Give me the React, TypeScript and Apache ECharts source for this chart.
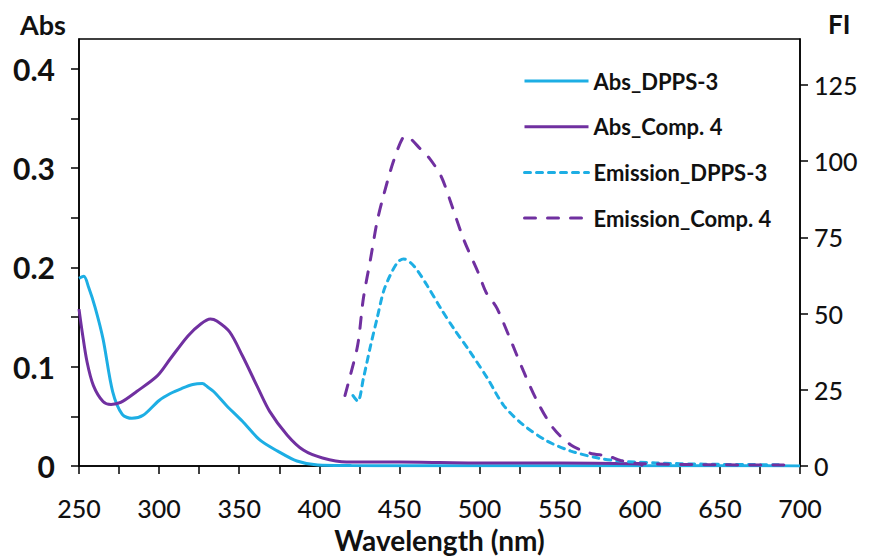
import React, { useEffect, useRef } from "react";
import * as echarts from "echarts";

// Wavelength (nm) / value pairs
const absDppsX = [250, 253, 256, 260, 265, 271, 277, 283, 290, 300, 307, 314, 321, 327, 330, 334, 342, 352, 363, 374, 386, 399, 420, 450, 500, 600, 700];
const absDppsY = [0.189, 0.191, 0.180, 0.160, 0.128, 0.075, 0.052, 0.048, 0.051, 0.066, 0.073, 0.078, 0.082, 0.083, 0.080, 0.075, 0.061, 0.045, 0.026, 0.015, 0.005, 0.001, 0.0005, 0.0003, 0.0002, 0.0002, 0.0001];

const absCompX = [250, 252, 255, 259, 265, 270, 276, 286, 299, 307, 318, 326, 332, 336, 344, 352, 361, 369, 380, 390, 402, 417, 450, 500, 550, 600, 602];
const absCompY = [0.158, 0.135, 0.105, 0.081, 0.065, 0.062, 0.064, 0.075, 0.091, 0.108, 0.131, 0.143, 0.148, 0.146, 0.135, 0.111, 0.081, 0.055, 0.031, 0.016, 0.008, 0.004, 0.004, 0.003, 0.003, 0.002, 0.0];

const emDppsX = [421, 424, 427.5, 432, 436, 440, 444, 449, 452.5, 459, 467.5, 476, 484, 494, 505, 515, 527.5, 542.5, 557, 574, 588, 610, 640, 690];
const emDppsY = [23.1, 21.2, 28.7, 39.5, 48.3, 57.1, 62.3, 66.9, 67.9, 65.6, 59, 51.5, 45, 37.5, 28.7, 19.9, 13.4, 8.1, 4.9, 2.6, 1.6, 1.0, 0.6, 0.4];

const emCompX = [416, 419.5, 424, 427.5, 432, 436, 440, 446, 452, 455, 457, 463, 469, 476, 482, 490, 499, 504, 507, 511, 519, 527.5, 536, 546, 557, 569, 580, 588, 600, 650, 690];
const emCompY = [23.1, 30, 39.8, 55, 68, 80, 88.5, 99.5, 107.5, 108, 107.3, 104, 100.7, 95, 86.5, 74.4, 63.6, 57, 54.8, 51.6, 41.8, 31, 21.2, 12.4, 6.9, 4.2, 3.3, 1.8, 0.8, 0.4, 0.3];

const seriesNames = ["Abs_DPPS-3", "Abs_Comp. 4", "Emission_DPPS-3", "Emission_Comp. 4"];

const xTicks = [250, 275, 300, 325, 350, 375, 400, 425, 450, 475, 500, 525, 550, 575, 600, 625, 650, 675, 700];
const xLabels = [250, 300, 350, 400, 450, 500, 550, 600, 650, 700];
const absTicks = [0, 0.05, 0.1, 0.15, 0.2, 0.25, 0.3, 0.35, 0.4];
const absLabels = [0, 0.1, 0.2, 0.3, 0.4];
const fiTicks = [0, 25, 50, 75, 100, 125];

const CYAN = "#1DAEE4";
const PURPLE = "#7030A0";
const FONT = "Lato, 'Open Sans', sans-serif";

const pairs = (xs: number[], ys: number[]) => xs.map((x, i) => [x, ys[i]]);

export default function App() {
  const ref = useRef<HTMLDivElement>(null);
  useEffect(() => {
    if (!ref.current) return;
    const chart = echarts.init(ref.current, null, { renderer: "svg" });
    const line = (name: string, data: number[][], color: string, yIndex: number, type: any) => ({
      name,
      type: "line",
      yAxisIndex: yIndex,
      data,
      symbol: "none",
      showSymbol: false,
      smooth: 0.3,
      lineStyle: { color, width: 3, type, cap: type === "solid" ? "butt" : "round" },
      itemStyle: { color },
    });
    chart.setOption({
      animation: false,
      backgroundColor: "#fff",
      grid: { left: 79, right: 76, top: 39, bottom: 91, show: true, borderColor: "#000", borderWidth: 1.5, backgroundColor: "transparent" },
      legend: {
        orient: "vertical",
        left: 518,
        top: 64,
        itemWidth: 64,
        itemHeight: 14,
        itemGap: 21.7,
        data: seriesNames,
        itemStyle: { opacity: 0 },
        lineStyle: { width: 3 },
        textStyle: { fontFamily: FONT, fontSize: 22, fontWeight: "bold", color: "#111", lineHeight: 24 },
      },
      xAxis: {
        type: "value",
        min: 250,
        max: 700,
        interval: 25,
        name: "Wavelength (nm)",
        nameLocation: "middle",
        nameGap: 60,
        nameTextStyle: { fontFamily: FONT, fontSize: 28, fontWeight: "bold", color: "#111" },
        axisLine: { lineStyle: { color: "#000", width: 1.5 } },
        axisTick: { inside: false, length: 8, lineStyle: { color: "#000", width: 1.5 }, customValues: xTicks },
        axisLabel: { fontFamily: FONT, fontSize: 25, fontWeight: 500, color: "#111", margin: 29, customValues: xLabels },
        splitLine: { show: false },
      },
      yAxis: [
        {
          type: "value",
          min: 0,
          max: 0.43,
          position: "left",
          axisLine: { show: true, lineStyle: { color: "#000", width: 1.5 } },
          axisTick: { show: true, inside: false, length: 8, lineStyle: { color: "#000", width: 1.5 }, customValues: absTicks },
          axisLabel: {
            fontFamily: FONT,
            fontSize: 30,
            fontWeight: "bold",
            color: "#111",
            margin: 24,
            customValues: absLabels,
            formatter: (v: number) => (v === 0 ? "0" : v.toFixed(1)),
          },
          splitLine: { show: false },
        },
        {
          type: "value",
          min: 0,
          max: 140,
          position: "right",
          axisLine: { show: true, lineStyle: { color: "#000", width: 1.5 } },
          axisTick: { show: true, inside: false, length: 8, lineStyle: { color: "#000", width: 1.5 }, customValues: fiTicks },
          axisLabel: { fontFamily: FONT, fontSize: 25, fontWeight: 500, color: "#111", margin: 14, customValues: fiTicks },
          splitLine: { show: false },
        },
      ],
      graphic: [
        { type: "text", left: 20, top: 11, style: { text: "Abs", fontFamily: FONT, fontSize: 27, fontWeight: "bold", fill: "#111" } },
        { type: "text", left: 828, top: 11, style: { text: "FI", fontFamily: FONT, fontSize: 26, fontWeight: "bold", fill: "#111" } },
      ],
      series: [
        line(seriesNames[0], pairs(absDppsX, absDppsY), CYAN, 0, "solid"),
        line(seriesNames[1], pairs(absCompX, absCompY), PURPLE, 0, "solid"),
        line(seriesNames[2], pairs(emDppsX, emDppsY), CYAN, 1, [6, 6]),
        line(seriesNames[3], pairs(emCompX, emCompY), PURPLE, 1, [11, 12]),
      ],
    });
    return () => chart.dispose();
  }, []);
  return <div ref={ref} style={{ position: "fixed", left: 0, top: 0, width: 876, height: 559 }} />;
}
